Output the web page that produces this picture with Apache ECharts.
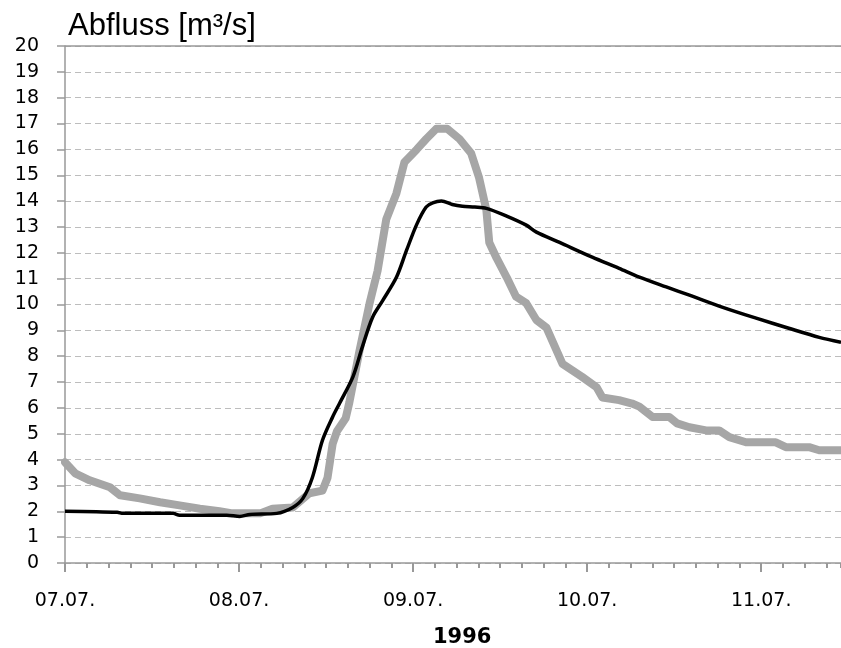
<!DOCTYPE html>
<html>
<head>
<meta charset="utf-8">
<script src="https://cdn.jsdelivr.net/npm/echarts@6/dist/echarts.min.js"></script>
<style>
  html, body { margin: 0; padding: 0; background: #fff; }
  #main { width: 841px; height: 648px; }
</style>
</head>
<body>
<div id="main"></div>
<script>
// hours since 07.07. 00:00
const grayHours = [0, 1.4, 3.4, 6.2, 7.6, 10.3, 13.1, 15.8, 18.6, 21.3, 23.1, 26.9, 28.6, 31.4, 33.7, 35.5,
  36.2, 36.9, 37.5, 38.7, 39.2, 40.6, 42.0, 43.1, 44.3, 45.7, 46.8, 48.5, 49.8, 51.2, 52.7, 54.4,
  56.0, 57.1, 58.1, 58.5, 59.5, 60.9, 62.2, 63.6, 65.0, 66.4, 68.6, 71.3, 73.3, 74.1, 76.4, 78.2,
  79.2, 81.0, 83.3, 84.4, 86.1, 88.4, 90.2, 91.6, 93.9, 98.0, 99.4, 102.6, 104.0, 107];
const grayFlow = [3.9, 3.47, 3.2, 2.93, 2.62, 2.5, 2.35, 2.23, 2.1, 2.0, 1.92, 1.92, 2.1, 2.15, 2.7, 2.8,
  3.3, 4.6, 5.1, 5.6, 6.2, 8.2, 10.05, 11.3, 13.3, 14.3, 15.5, 16.0, 16.4, 16.8, 16.8, 16.4,
  15.85, 14.9, 13.65, 12.4, 11.8, 11.05, 10.3, 10.05, 9.4, 9.1, 7.7, 7.2, 6.8, 6.4, 6.3, 6.17,
  6.05, 5.65, 5.65, 5.4, 5.25, 5.13, 5.13, 4.87, 4.67, 4.67, 4.48, 4.48, 4.36, 4.36];

const blackHours = [0, 7.2, 8.0, 14.9, 15.8, 22.3, 24.1, 25.5, 29.2, 31.4, 32.8, 34.1, 35.5, 36.9,
  37.9, 39.7, 41.0, 42.4, 43.8, 45.7, 47.1, 48.5, 49.8, 50.7, 51.9, 53.4, 54.8, 56.5, 58.1,
  60.9, 63.6, 65.0, 68.2, 72.7, 76.4, 79.2, 82.9, 86.1, 90.6, 95.3, 99.8, 104.0, 107];
const blackFlow = [2.0, 1.96, 1.92, 1.92, 1.85, 1.85, 1.8, 1.88, 1.92, 2.15, 2.5, 3.3, 4.75, 5.65,
  6.2, 7.2, 8.36, 9.5, 10.15, 11.05, 12.1, 13.1, 13.77, 13.93, 14.0, 13.87, 13.8, 13.77, 13.72,
  13.42, 13.07, 12.8, 12.4, 11.83, 11.4, 11.06, 10.68, 10.36, 9.9, 9.47, 9.08, 8.73, 8.54];

const dayLabels = ['07.07.', '08.07.', '09.07.', '10.07.', '11.07.'];
const yearLabel = '1996';
const yTitle = 'Abfluss [m³/s]';
const yMax = 20;

const pairs = (xs, ys) => xs.map((x, i) => [x, ys[i]]);
const axisGrey = '#999';

const chart = echarts.init(document.getElementById('main'));
chart.setOption({
  animation: false,
  backgroundColor: '#fff',
  title: {
    text: yTitle,
    left: 63,
    top: 6,
    textStyle: { fontFamily: 'Liberation Sans', fontSize: 31, fontWeight: 'normal', color: '#000' }
  },
  graphic: [{
    type: 'text',
    left: 433,
    top: 627,
    style: { text: yearLabel, fontFamily: 'DejaVu Sans', fontSize: 21, fontWeight: 'bold', fill: '#000' }
  }],
  grid: { left: 65, right: 0, top: 46, bottom: 85 },
  xAxis: [{
    // day ticks + labels
    type: 'value',
    min: 0, max: 107, interval: 24,
    axisLine: { show: true, lineStyle: { color: axisGrey, width: 1.5 } },
    axisTick: { show: true, length: 9, lineStyle: { color: axisGrey, width: 2 } },
    splitLine: { show: false },
    axisLabel: {
      margin: 29,
      fontFamily: 'DejaVu Sans', fontSize: 19, color: '#000',
      showMaxLabel: false,
      formatter: v => (v % 24 === 0 ? dayLabels[v / 24] || '' : '')
    }
  }, {
    // 3-hour minor ticks
    type: 'value',
    position: 'bottom',
    min: 0, max: 107, interval: 3,
    axisLine: { show: false },
    axisTick: { show: true, length: 5, lineStyle: { color: axisGrey, width: 2 } },
    axisLabel: { show: false },
    splitLine: { show: false }
  }],
  yAxis: {
    type: 'value',
    min: 0, max: yMax, interval: 1,
    axisLine: { show: true, lineStyle: { color: axisGrey, width: 1.5 } },
    axisTick: { show: true, length: 8, lineStyle: { color: axisGrey, width: 1.5 } },
    axisLabel: { margin: 26, fontFamily: 'DejaVu Sans', fontSize: 19, color: '#000' },
    splitLine: { lineStyle: { color: '#bdbdbd', type: [6, 4], width: 1 } }
  },
  series: [{
    type: 'line',
    data: pairs(grayHours, grayFlow),
    showSymbol: false,
    lineStyle: { color: '#a6a6a6', width: 8, join: 'round', cap: 'round' },
    // solid frame line along the top of the plot
    markLine: {
      silent: true,
      symbol: 'none',
      label: { show: false },
      lineStyle: { color: axisGrey, type: 'solid', width: 1.5 },
      data: [{ yAxis: yMax }]
    }
  }, {
    type: 'line',
    data: pairs(blackHours, blackFlow),
    showSymbol: false,
    smooth: 0.3,
    lineStyle: { color: '#000', width: 3.5, join: 'round' }
  }]
});
</script>
</body>
</html>
